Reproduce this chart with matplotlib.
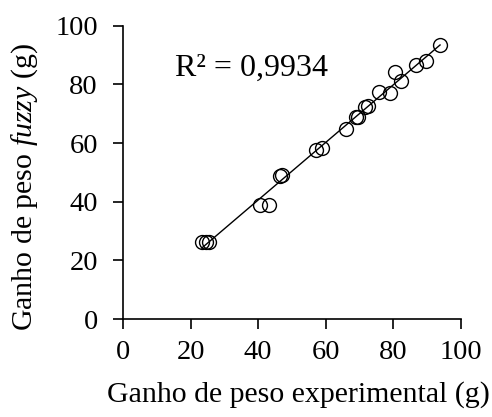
import numpy as np
import matplotlib
matplotlib.use("Agg")
import matplotlib.pyplot as plt

plt.rcParams['font.family'] = ['Liberation Serif', 'DejaVu Serif']
plt.rcParams['mathtext.fontset'] = 'custom'
plt.rcParams['mathtext.rm'] = 'Liberation Serif'
plt.rcParams['mathtext.it'] = 'Liberation Serif:italic'

# ganho de peso experimental x fuzzy (g)
experimental = [23.3, 24.6, 25.5, 40.5, 43.3, 46.5, 47.0, 57.1, 58.8, 65.9,
                68.8, 69.4, 71.6, 72.4, 75.7, 79.0, 80.5, 82.1, 86.7, 89.5, 93.8]
fuzzy = [26.3, 26.3, 26.3, 38.9, 38.9, 48.9, 49.2, 57.7, 58.3, 64.7,
         68.8, 69.0, 72.2, 72.7, 77.6, 77.2, 84.4, 81.3, 86.5, 88.1, 93.5]
r2_text = "R² = 0,9934"

x = np.array(experimental)
y = np.array(fuzzy)
coef = np.polyfit(x, y, 1)
xl = np.array([x.min(), x.max()])

fig = plt.figure(figsize=(4.92, 4.17), dpi=100)
ax = fig.add_axes([0.25, 0.235, 0.687, 0.703])

ax.plot(xl, np.polyval(coef, xl), c='k', lw=1.0, zorder=1)
ax.plot(x, y, 'o', mfc='none', mec='k', ms=10, mew=1.0, zorder=2)
ax.text(15.4, 82.9, r2_text, fontsize=23, va='baseline', ha='left')

ax.set_xlim(0, 100)
ax.set_ylim(0, 100)
ax.set_xticks(range(0, 101, 20))
ax.set_yticks(range(0, 101, 20))
ax.spines['top'].set_visible(False)
ax.spines['right'].set_visible(False)
ax.spines['left'].set_linewidth(1.2)
ax.spines['bottom'].set_linewidth(1.2)
ax.tick_params(labelsize=20.5, length=7, width=1.2, direction='out')
ax.tick_params(axis='y', pad=11)
ax.tick_params(axis='x', pad=8)
ax.set_xlabel("Ganho de peso experimental (g)", fontsize=21.5)
ax.set_ylabel(r"Ganho de peso $\it{fuzzy}$ (g)", fontsize=21.5)
ax.xaxis.set_label_coords(0.519, -0.213)
ax.yaxis.set_label_coords(-0.247, 0.45)

fig.savefig("out.png", dpi=100)
